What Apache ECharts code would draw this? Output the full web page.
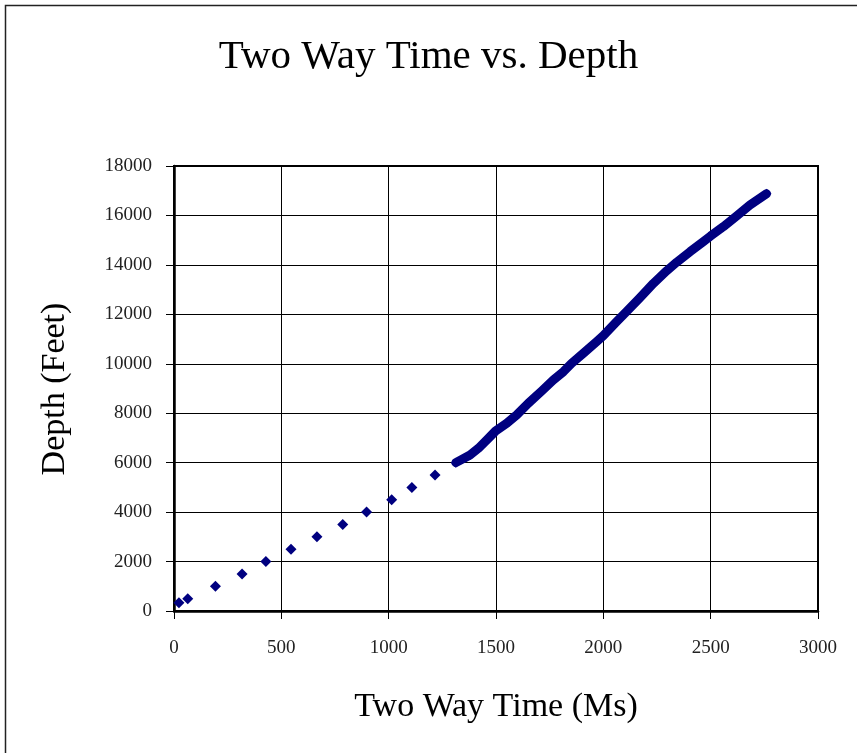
<!DOCTYPE html>
<html>
<head>
<meta charset="utf-8">
<script src="https://cdn.jsdelivr.net/npm/echarts@6/dist/echarts.min.js"></script>
<style>
  html, body { margin: 0; padding: 0; background: #fff; }
  #chart { width: 857px; height: 753px; }
</style>
</head>
<body>
<div id="chart"></div>
<script>
// Two-way travel time (ms) against depth (feet)
const titleText = 'Two Way Time vs. Depth';
const xAxisTitle = 'Two Way Time (Ms)';
const yAxisTitle = 'Depth (Feet)';

// Shallow check-shot samples, every 500 ft
const shallowTime  = [23, 64, 193, 317, 428, 545, 666, 786, 897, 1014, 1108, 1216];
const shallowDepth = [330, 500, 1000, 1500, 2000, 2500, 3000, 3500, 4000, 4500, 5000, 5500];

// Densely sampled deeper section
const deepTime  = [1313, 1379, 1418, 1465, 1498, 1550, 1596, 1650, 1713, 1767, 1814, 1852, 1907,
                   1969, 2000, 2062, 2109, 2171, 2233, 2295, 2342, 2404, 2466, 2500, 2559, 2621,
                   2683, 2760];
const deepDepth = [6000, 6310, 6580, 6985, 7281, 7592, 7928, 8401, 8900, 9344, 9680, 10019, 10424,
                   10893, 11136, 11702, 12120, 12680, 13250, 13760, 14110, 14534, 14938, 15169, 15545, 15978,
                   16423, 16880];

// Axis ranges and tick steps
const xMin = 0, xMax = 3000, xStep = 500;
const yMin = 0, yMax = 18000, yStep = 2000;

const zip = (a, b) => a.map((v, i) => [v, b[i]]);
const plain = v => String(v);

const serif = '"Liberation Serif", "DejaVu Serif", serif';
const navy = '#000080';

const chart = echarts.init(document.getElementById('chart'), null, { renderer: 'canvas' });

chart.setOption({
  backgroundColor: '#ffffff',
  animation: false,
  grid: {
    left: 174, right: 39, top: 166, bottom: 142,
    show: true, borderColor: '#000', borderWidth: 2, backgroundColor: 'transparent'
  },
  xAxis: {
    type: 'value', min: xMin, max: xMax, interval: xStep,
    axisLine: { show: true, lineStyle: { color: '#000', width: 2.5 } },
    axisTick: { show: true, length: 8, lineStyle: { color: '#000', width: 1 } },
    axisLabel: { margin: 28, fontFamily: serif, fontSize: 19, color: '#222', formatter: plain },
    splitLine: { show: true, lineStyle: { color: '#000', width: 1 } }
  },
  yAxis: {
    type: 'value', min: yMin, max: yMax, interval: yStep,
    axisLine: { show: true, lineStyle: { color: '#000', width: 2.5 } },
    axisTick: { show: true, length: 8, lineStyle: { color: '#000', width: 1 } },
    axisLabel: { margin: 22, fontFamily: serif, fontSize: 19, color: '#222', formatter: plain },
    splitLine: { show: true, lineStyle: { color: '#000', width: 1 } }
  },
  graphic: [
    {
      type: 'rect', silent: true, z: -1,
      shape: { x: 5.5, y: 5.5, width: 900, height: 900 },
      style: { fill: 'none', stroke: '#222', lineWidth: 1.5 }
    },
    {
      type: 'text', left: 'center', top: 37,
      style: { text: titleText, font: '41px ' + serif, fill: '#000' }
    },
    {
      type: 'text', x: 496, y: 707,
      style: { text: xAxisTitle, font: '34px ' + serif, fill: '#000', align: 'center', verticalAlign: 'middle' }
    },
    {
      type: 'text', x: 55, y: 389, rotation: Math.PI / 2,
      style: { text: yAxisTitle, font: '34px ' + serif, fill: '#000', align: 'center', verticalAlign: 'middle' }
    }
  ],
  series: [
    {
      name: 'shallow',
      type: 'scatter',
      symbol: 'diamond',
      symbolSize: 11,
      itemStyle: { color: navy, opacity: 1 },
      data: zip(shallowTime, shallowDepth)
    },
    {
      name: 'deep',
      type: 'line',
      symbol: 'diamond',
      symbolSize: 10,
      showSymbol: true,
      itemStyle: { color: navy, opacity: 1 },
      lineStyle: { color: navy, width: 9, cap: 'round', join: 'round' },
      data: zip(deepTime, deepDepth)
    }
  ]
});
</script>
</body>
</html>
